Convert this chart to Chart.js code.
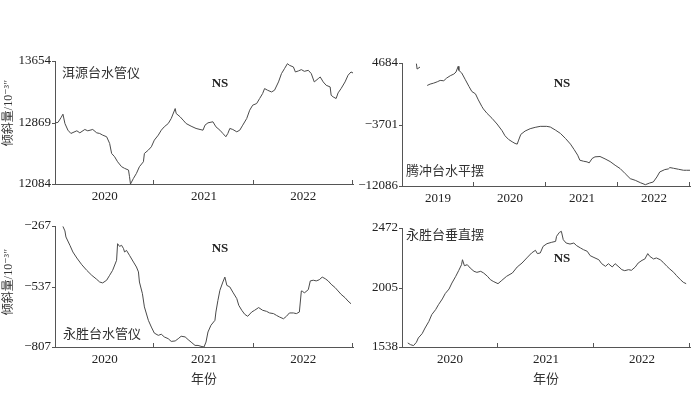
<!DOCTYPE html>
<html>
<head>
<meta charset="utf-8">
<script src="https://cdn.jsdelivr.net/npm/chart.js@4.4.0/dist/chart.umd.min.js"></script>
<style>
body{margin:0;background:#fff;width:700px;height:408px;position:relative;overflow:hidden}
canvas{position:absolute}
.stn{position:absolute;font-family:"Noto Sans CJK SC";font-size:13px;line-height:13px;color:#333;white-space:nowrap}
.ns{position:absolute;font-family:"Liberation Serif";font-weight:bold;font-size:13px;color:#222;transform:translate(-50%,-50%)}
.ytl{position:absolute;font-family:"Liberation Serif","DejaVu Serif","Noto Sans CJK SC";font-size:12px;line-height:12px;color:#333;white-space:nowrap;transform:translate(-50%,-50%) rotate(-90deg)}
</style>
</head>
<body>
<canvas id="c1" width="355" height="204" style="left:0;top:0"></canvas>
<canvas id="c2" width="350" height="204" style="left:350px;top:0"></canvas>
<canvas id="c3" width="355" height="204" style="left:0;top:204px"></canvas>
<canvas id="c4" width="350" height="204" style="left:350px;top:204px"></canvas>

<div class="stn" style="left:62px;top:65px">洱源台水管仪</div>
<div class="stn" style="left:406px;top:163px">腾冲台水平摆</div>
<div class="stn" style="left:63px;top:326px">永胜台水管仪</div>
<div class="stn" style="left:406px;top:227px">永胜台垂直摆</div>
<div class="ns" style="left:220px;top:83px">NS</div>
<div class="ns" style="left:562px;top:83px">NS</div>
<div class="ns" style="left:220px;top:248px">NS</div>
<div class="ns" style="left:562px;top:258px">NS</div>
<div class="ytl" style="left:8px;top:113px">倾斜量/10⁻³″</div>
<div class="ytl" style="left:8px;top:282px">倾斜量/10⁻³″</div>

<script>
// 洱源台水管仪
var erYears = [2020.00,2020.03,2020.06,2020.08,2020.10,2020.13,2020.16,2020.22,2020.25,2020.30,2020.33,2020.38,2020.42,2020.45,2020.48,2020.52,2020.55,2020.57,2020.60,2020.63,2020.67,2020.70,2020.74,2020.75,2020.76,2020.79,2020.82,2020.85,2020.89,2020.90,2020.94,2020.97,2021.00,2021.04,2021.07,2021.10,2021.14,2021.17,2021.21,2021.22,2021.26,2021.29,2021.32,2021.37,2021.42,2021.46,2021.49,2021.51,2021.54,2021.59,2021.62,2021.66,2021.69,2021.72,2021.74,2021.76,2021.79,2021.83,2021.86,2021.89,2021.93,2021.96,2021.99,2022.03,2022.06,2022.09,2022.11,2022.14,2022.18,2022.21,2022.25,2022.28,2022.31,2022.34,2022.36,2022.40,2022.42,2022.45,2022.48,2022.51,2022.55,2022.58,2022.61,2022.65,2022.67,2022.70,2022.73,2022.77,2022.78,2022.80,2022.83,2022.85,2022.88,2022.92,2022.95,2022.98,2023.00];
var erVals = [12865,12870,12930,12975,12856,12771,12729,12763,12737,12780,12763,12780,12737,12729,12708,12687,12602,12474,12432,12368,12305,12284,12262,12177,12084,12156,12220,12305,12368,12474,12517,12559,12644,12708,12771,12814,12856,12920,13047,12984,12941,12899,12856,12822,12793,12780,12771,12835,12865,12878,12814,12771,12729,12687,12729,12793,12780,12750,12771,12835,12920,13026,13090,13111,13175,13238,13302,13281,13259,13281,13387,13493,13556,13620,13599,13578,13514,13527,13544,13522,13535,13493,13387,13429,13450,13387,13344,13323,13217,13196,13175,13247,13302,13387,13472,13514,13501];

// 腾冲台水平摆
var tcYears = [2019.20,2019.21,2019.25,2019.30,2019.35,2019.39,2019.44,2019.49,2019.53,2019.58,2019.62,2019.67,2019.72,2019.75,2019.78,2019.79,2019.83,2019.88,2019.93,2019.97,2020.02,2020.06,2020.11,2020.13,2020.18,2020.25,2020.32,2020.39,2020.43,2020.48,2020.53,2020.57,2020.60,2020.62,2020.65,2020.71,2020.78,2020.85,2020.92,2021.01,2021.06,2021.13,2021.20,2021.27,2021.34,2021.39,2021.44,2021.47,2021.52,2021.57,2021.60,2021.64,2021.68,2021.75,2021.82,2021.89,2021.96,2022.03,2022.10,2022.17,2022.24,2022.31,2022.38,2022.44,2022.49,2022.54,2022.58,2022.65,2022.70,2022.72,2022.77,2022.84,2022.91,2022.95,2023.00];
var tcVals = [4593,3861,4136,null,1622,1805,1942,2125,2308,2262,2627,2947,3176,3450,4227,3679,3313,2399,1485,800,480,-343,-1257,-1577,-2171,-2856,-3633,-4547,-5233,-5736,-6056,-6284,-6375,-5827,-5050,-4593,-4273,-4090,-3953,-3953,-4044,-4456,-4913,-5599,-6375,-7107,-7883,-8569,-8706,-8798,-8935,-8340,-8112,-8066,-8386,-8752,-9254,-9711,-10397,-11083,-11311,-11631,-11905,-11677,-11540,-10854,-10169,-9849,-9757,-9574,-9666,-9803,-9940,-9940,-9940];

// 永胜台水管仪
var ysgYears = [2020.08,2020.10,2020.11,2020.15,2020.18,2020.22,2020.27,2020.32,2020.37,2020.42,2020.45,2020.48,2020.52,2020.55,2020.58,2020.62,2020.63,2020.65,2020.67,2020.69,2020.70,2020.72,2020.75,2020.79,2020.82,2020.84,2020.85,2020.88,2020.90,2020.94,2020.97,2021.00,2021.04,2021.07,2021.10,2021.14,2021.17,2021.21,2021.24,2021.27,2021.31,2021.34,2021.37,2021.41,2021.44,2021.47,2021.50,2021.52,2021.54,2021.57,2021.61,2021.62,2021.64,2021.66,2021.69,2021.71,2021.73,2021.76,2021.79,2021.83,2021.85,2021.88,2021.91,2021.94,2021.98,2022.01,2022.05,2022.09,2022.13,2022.16,2022.20,2022.23,2022.26,2022.30,2022.33,2022.36,2022.40,2022.43,2022.46,2022.48,2022.49,2022.51,2022.55,2022.57,2022.60,2022.63,2022.66,2022.69,2022.72,2022.75,2022.78,2022.82,2022.85,2022.88,2022.92,2022.95,2022.98,2023.00];
var ysgVals = [-269,-289,-316,-353,-383,-410,-440,-465,-487,-505,-517,-521,-509,-487,-465,-420,-346,-358,-353,-368,-383,-376,-398,-428,-450,-472,-517,-569,-628,-688,-718,-745,-755,-750,-762,-770,-782,-780,-770,-759,-762,-774,-785,-800,-800,-804,-807,-785,-740,-710,-688,-651,-599,-554,-517,-495,-532,-539,-562,-591,-621,-643,-661,-670,-651,-643,-631,-643,-648,-655,-658,-666,-673,-681,-670,-655,-655,-658,-651,-557,-557,-566,-551,-512,-509,-512,-507,-495,-502,-512,-527,-542,-557,-572,-587,-602,-614];

// 永胜台垂直摆
var ysbYears = [2020.06,2020.09,2020.12,2020.15,2020.17,2020.21,2020.24,2020.28,2020.31,2020.35,2020.38,2020.42,2020.45,2020.49,2020.52,2020.56,2020.59,2020.62,2020.63,2020.65,2020.68,2020.71,2020.75,2020.78,2020.82,2020.85,2020.89,2020.92,2020.95,2021.00,2021.04,2021.09,2021.15,2021.20,2021.25,2021.30,2021.35,2021.39,2021.41,2021.44,2021.47,2021.51,2021.56,2021.60,2021.61,2021.64,2021.66,2021.68,2021.71,2021.75,2021.79,2021.82,2021.86,2021.89,2021.93,2021.96,2021.99,2022.05,2022.08,2022.12,2022.15,2022.19,2022.22,2022.26,2022.29,2022.32,2022.36,2022.39,2022.43,2022.46,2022.50,2022.53,2022.56,2022.58,2022.62,2022.65,2022.69,2022.72,2022.76,2022.79,2022.83,2022.86,2022.90,2022.93,2022.96];
var ysbVals = [1570,1556,1549,1575,1609,1643,1687,1739,1792,1831,1870,1915,1957,1993,2040,2093,2137,2184,2223,2176,2184,2158,2132,2124,2132,2119,2093,2067,2053,2035,2061,2093,2119,2166,2197,2237,2276,2297,2271,2276,2328,2349,2360,2367,2407,2438,2446,2380,2354,2346,2354,2333,2315,2302,2289,2255,2244,2223,2192,2171,2192,2166,2192,2166,2145,2137,2145,2140,2166,2197,2218,2229,2271,2250,2229,2237,2223,2203,2171,2150,2124,2098,2067,2046,2035];

var erTicks = [12084, 12869, 13654];
var tcTicks = [-12086, -3701, 4684];
var ysgTicks = [-807, -537, -267];
var ysbTicks = [1538, 2005, 2472];

var years3 = [2020, 2021, 2022];
var years4 = [2019, 2020, 2021, 2022];

var FONT = "'Liberation Serif', 'DejaVu Serif', 'Noto Sans CJK SC'";

// short tick marks: x ticks point up into the plot, y ticks point left
var tickMarks = {
  id: 'tickMarks',
  afterDraw: function(chart, args, opts) {
    var ctx = chart.ctx, xs = chart.scales.x, ys = chart.scales.y, a = chart.chartArea;
    var yrs = opts.years || [], yt = opts.yticks || [];
    ctx.save();
    ctx.strokeStyle = '#555';
    ctx.lineWidth = 1;
    ctx.beginPath();
    for (var i = 0; i < yrs.length; i++) {
      var px = Math.round(xs.getPixelForValue(yrs[i] + 1)) - 0.5;
      ctx.moveTo(px, a.bottom);
      ctx.lineTo(px, a.bottom - 4);
    }
    for (var j = 0; j < yt.length; j++) {
      var py = Math.round(ys.getPixelForValue(yt[j])) + 0.5;
      ctx.moveTo(a.left, py);
      ctx.lineTo(a.left - 3, py);
    }
    ctx.stroke();
    ctx.restore();
  }
};

function fmt(v) {
  return v < 0 ? '\u2212' + Math.abs(v) : String(v);
}

function makeChart(id, xs, ys, yTicks, yrs, geo) {
  var pts = xs.map(function(x, i) { return {x: x, y: ys[i]}; });
  return new Chart(document.getElementById(id), {
    type: 'line',
    data: {
      datasets: [{
        data: pts,
        borderColor: '#4a4a4a',
        borderWidth: 1,
        pointRadius: 0,
        tension: 0,
        spanGaps: false
      }]
    },
    options: {
      responsive: false,
      animation: false,
      layout: {padding: geo.pad},
      plugins: {
        legend: {display: false},
        tooltip: {enabled: false},
        tickMarks: {years: yrs, yticks: yTicks}
      },
      scales: {
        x: {
          type: 'linear',
          min: yrs[0],
          max: yrs[yrs.length - 1] + 1,
          afterBuildTicks: function(s) {
            s.ticks = yrs.map(function(y) { return {value: y + 0.5}; });
          },
          afterFit: function(s) { s.height = geo.xh; },
          grid: {display: true, drawOnChartArea: false, drawTicks: false},
          border: {display: true, color: '#555', width: 1},
          ticks: {
            padding: 5,
            color: '#222',
            font: {family: FONT, size: 13},
            callback: function(v) { return String(Math.floor(v)); }
          },
          title: {
            display: geo.xTitle,
            text: '年份',
            color: '#333',
            font: {family: FONT, size: 13},
            padding: {top: 0, bottom: 4}
          }
        },
        y: {
          min: yTicks[0],
          max: yTicks[yTicks.length - 1],
          afterBuildTicks: function(s) {
            s.ticks = yTicks.map(function(v) { return {value: v}; });
          },
          afterFit: function(s) { s.width = geo.yw; },
          grid: {display: true, drawOnChartArea: false, drawTicks: false},
          border: {display: true, color: '#555', width: 1},
          ticks: {
            padding: 4,
            color: '#222',
            font: {family: FONT, size: 13},
            callback: function(v) { return fmt(v); }
          }
        }
      }
    },
    plugins: [tickMarks]
  });
}

makeChart('c1', erYears, erVals, erTicks, years3,
  {yw: 55, xh: 20, pad: {top: 61, right: 2, bottom: 0, left: 0}, xTitle: false});
makeChart('c2', tcYears, tcVals, tcTicks, years4,
  {yw: 52, xh: 18, pad: {top: 63, right: 10, bottom: 0, left: 0}, xTitle: false});
makeChart('c3', ysgYears, ysgVals, ysgTicks, years3,
  {yw: 55, xh: 44, pad: {top: 22, right: 2, bottom: 17, left: 0}, xTitle: true});
makeChart('c4', ysbYears, ysbVals, ysbTicks, years3,
  {yw: 52, xh: 44, pad: {top: 24, right: 10, bottom: 17, left: 0}, xTitle: true});
</script>
</body>
</html>
